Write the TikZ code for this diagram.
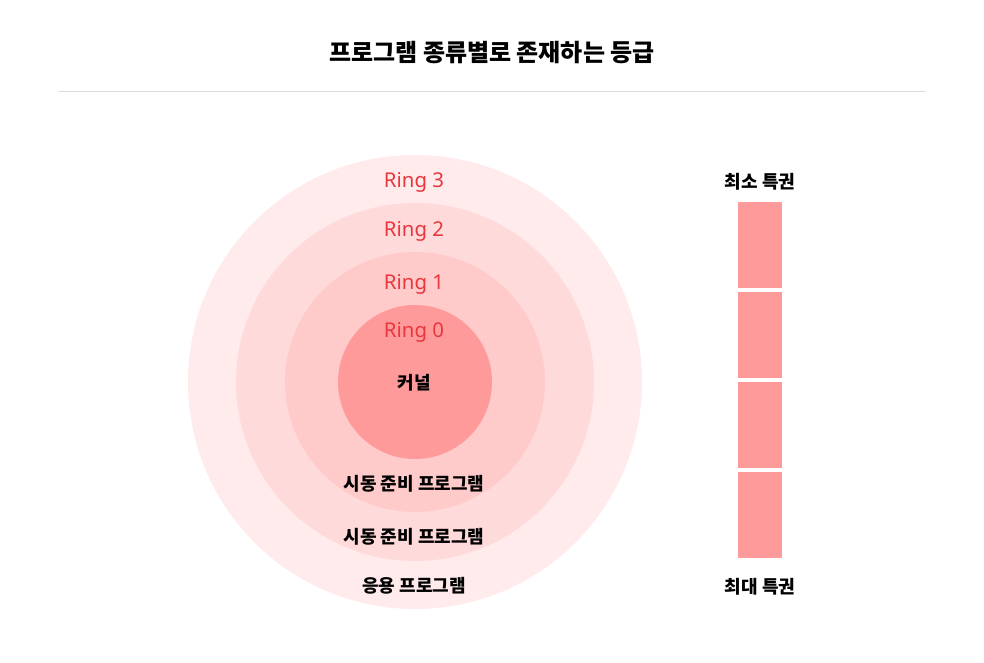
\documentclass[tikz,border=0pt]{standalone}
\usepackage{fontspec}
\setmainfont{Noto Sans CJK KR}
\newfontfamily\latinfont{Noto Sans}
\usetikzlibrary{positioning}
\definecolor{ringthree}{HTML}{FFEBEB}
\definecolor{ringtwo}{HTML}{FFDADA}
\definecolor{ringone}{HTML}{FFCACA}
\definecolor{ringzero}{HTML}{FF9A9A}
\definecolor{ringred}{HTML}{E8373F}
\definecolor{rulegray}{HTML}{DDDDDD}

\begin{document}
\begin{tikzpicture}[x=1pt,y=-1pt,
    ring/.style={circle,inner sep=0pt,minimum size=#1},
    ringlabel/.style={text=ringred,font=\latinfont\fontsize{20.4}{20.4}\selectfont},
    boldlabel/.style={font=\bfseries\fontsize{18}{18}\selectfont},
    segment/.style={fill=ringzero,inner sep=0pt,minimum width=44pt,minimum height=86pt}]
  \useasboundingbox (0,0) rectangle (984,663);
  % title and rule
  \node[font=\bfseries\fontsize{24}{24}\selectfont] (title) at (492,53) {프로그램 종류별로 존재하는 등급};
  \coordinate (ruleL) at (58,92);
  \coordinate (ruleR) at (926,92);
  \draw[rulegray,line width=1pt] (ruleL) -- (ruleR);
  % rings
  \node[ring=454pt,fill=ringthree] (r3) at (415,382) {};
  \node[ring=358pt,fill=ringtwo] (r2) at (415,382) {};
  \node[ring=260pt,fill=ringone] (r1) at (415,382) {};
  \node[ring=154pt,fill=ringzero] (r0) at (415,382) {};
  \node[ringlabel] (l3) at (414,182) {Ring 3};
  \node[ringlabel] (l2) at (414,231) {Ring 2};
  \node[ringlabel] (l1) at (414,284) {Ring 1};
  \node[ringlabel] (l0) at (414,332) {Ring 0};
  \node[boldlabel] (kernel) at (414,383) {커널};
  \node[boldlabel] (boot1) at (414,484) {시동 준비 프로그램};
  \node[boldlabel] (boot2) at (414,537) {시동 준비 프로그램};
  \node[boldlabel] (app) at (414,586) {응용 프로그램};
  % privilege bar
  \node[boldlabel] (least) at (760,182) {최소 특권};
  \foreach \i in {0,...,3}
    \node[segment] (seg\i) at (760,245+90*\i) {};
  \node[boldlabel] (most) at (760,587) {최대 특권};
\end{tikzpicture}
\end{document}
